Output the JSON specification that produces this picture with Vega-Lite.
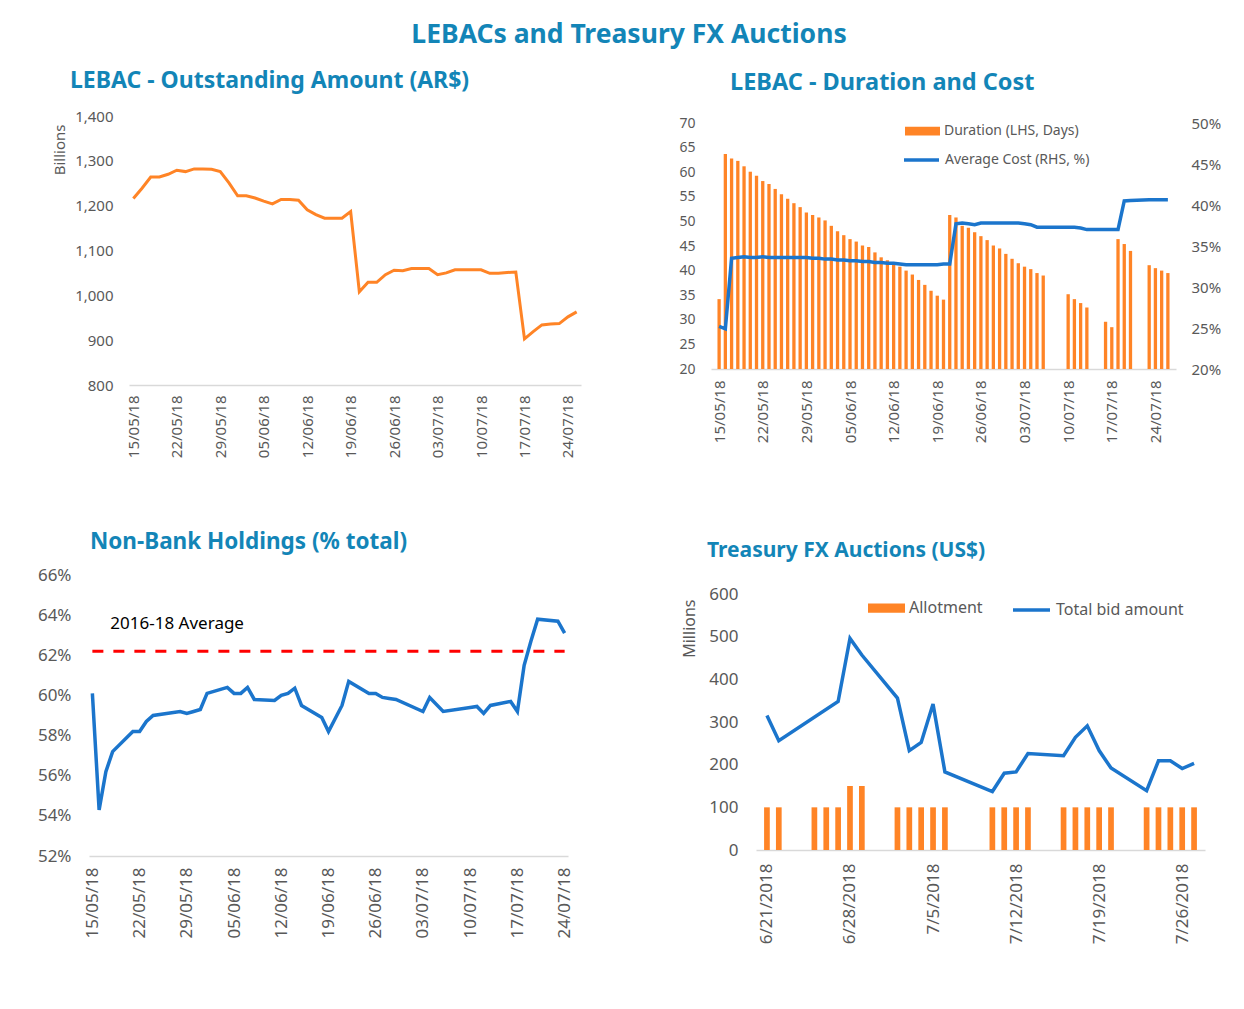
{
  "$schema": "https://vega.github.io/schema/vega-lite/v6.json",
  "autosize": {"type": "pad"},
  "padding": {"left": 37, "top": 21, "right": 0, "bottom": 0},
  "background": "white",
  "title": {"text": "LEBACs and Treasury FX Auctions", "fontSize": 26.5, "anchor": "middle", "offset": 22, "font": "Noto Sans", "fontWeight": "bold", "color": "#1385B7"},
  "config": {
    "font": "Noto Sans",
    "view": {"stroke": null},
    "axis": {"labelFont": "Noto Sans", "labelColor": "#595959", "domainColor": "#D9D9D9", "domainWidth": 1.5, "ticks": false, "grid": false, "titleFont": "Noto Sans", "titleFontWeight": "normal", "titleColor": "#595959", "labelFlush": false, "labelOverlap": false},
    "legend": {"labelFont": "Noto Sans", "labelColor": "#595959", "padding": 0, "title": null},
    "title": {"font": "Noto Sans", "color": "#1385B7", "fontWeight": "bold"}
  },
  "datasets": {
    "amount": [
      {"date": "2018-05-15", "amount": 1216}, {"date": "2018-05-16", "amount": 1239}, {"date": "2018-05-17", "amount": 1264}, {"date": "2018-05-18", "amount": 1264},
      {"date": "2018-05-21", "amount": 1270}, {"date": "2018-05-22", "amount": 1279}, {"date": "2018-05-23", "amount": 1276}, {"date": "2018-05-24", "amount": 1282},
      {"date": "2018-05-25", "amount": 1282}, {"date": "2018-05-28", "amount": 1281}, {"date": "2018-05-29", "amount": 1276}, {"date": "2018-05-30", "amount": 1251},
      {"date": "2018-05-31", "amount": 1222}, {"date": "2018-06-01", "amount": 1222}, {"date": "2018-06-04", "amount": 1217}, {"date": "2018-06-05", "amount": 1210},
      {"date": "2018-06-06", "amount": 1204}, {"date": "2018-06-07", "amount": 1214}, {"date": "2018-06-08", "amount": 1214}, {"date": "2018-06-11", "amount": 1212},
      {"date": "2018-06-12", "amount": 1191}, {"date": "2018-06-13", "amount": 1180}, {"date": "2018-06-14", "amount": 1172}, {"date": "2018-06-15", "amount": 1172},
      {"date": "2018-06-18", "amount": 1172}, {"date": "2018-06-19", "amount": 1187}, {"date": "2018-06-20", "amount": 1008}, {"date": "2018-06-21", "amount": 1029},
      {"date": "2018-06-22", "amount": 1029}, {"date": "2018-06-25", "amount": 1046}, {"date": "2018-06-26", "amount": 1056}, {"date": "2018-06-27", "amount": 1055},
      {"date": "2018-06-28", "amount": 1060}, {"date": "2018-06-29", "amount": 1060}, {"date": "2018-07-02", "amount": 1060}, {"date": "2018-07-03", "amount": 1046},
      {"date": "2018-07-04", "amount": 1050}, {"date": "2018-07-05", "amount": 1057}, {"date": "2018-07-06", "amount": 1057}, {"date": "2018-07-09", "amount": 1057},
      {"date": "2018-07-10", "amount": 1057}, {"date": "2018-07-11", "amount": 1049}, {"date": "2018-07-12", "amount": 1049}, {"date": "2018-07-13", "amount": 1051},
      {"date": "2018-07-16", "amount": 1052}, {"date": "2018-07-17", "amount": 903}, {"date": "2018-07-18", "amount": 919}, {"date": "2018-07-19", "amount": 934},
      {"date": "2018-07-20", "amount": 936}, {"date": "2018-07-23", "amount": 937}, {"date": "2018-07-24", "amount": 952}, {"date": "2018-07-25", "amount": 963}
    ],
    "durcost": [
      {"date": "2018-05-15", "duration": 34.2, "cost": 25.2}, {"date": "2018-05-16", "duration": 63.7, "cost": 24.9},
      {"date": "2018-05-17", "duration": 62.8, "cost": 33.5}, {"date": "2018-05-18", "duration": 62.3, "cost": 33.6},
      {"date": "2018-05-19", "duration": 61.2, "cost": 33.7}, {"date": "2018-05-20", "duration": 60.1, "cost": 33.6},
      {"date": "2018-05-21", "duration": 59.3, "cost": 33.6}, {"date": "2018-05-22", "duration": 58.2, "cost": 33.7},
      {"date": "2018-05-23", "duration": 57.6, "cost": 33.6}, {"date": "2018-05-24", "duration": 56.6, "cost": 33.6},
      {"date": "2018-05-25", "duration": 55.5, "cost": 33.6}, {"date": "2018-05-26", "duration": 54.6, "cost": 33.6},
      {"date": "2018-05-27", "duration": 53.7, "cost": 33.6}, {"date": "2018-05-28", "duration": 52.9, "cost": 33.6},
      {"date": "2018-05-29", "duration": 51.8, "cost": 33.6}, {"date": "2018-05-30", "duration": 51.3, "cost": 33.5},
      {"date": "2018-05-31", "duration": 50.8, "cost": 33.5}, {"date": "2018-06-01", "duration": 50.2, "cost": 33.4},
      {"date": "2018-06-02", "duration": 49.1, "cost": 33.4}, {"date": "2018-06-03", "duration": 48.0, "cost": 33.3},
      {"date": "2018-06-04", "duration": 47.2, "cost": 33.3}, {"date": "2018-06-05", "duration": 46.4, "cost": 33.2},
      {"date": "2018-06-06", "duration": 45.9, "cost": 33.2}, {"date": "2018-06-07", "duration": 45.1, "cost": 33.1},
      {"date": "2018-06-08", "duration": 44.8, "cost": 33.1}, {"date": "2018-06-09", "duration": 43.7, "cost": 33.0},
      {"date": "2018-06-10", "duration": 42.7, "cost": 33.0}, {"date": "2018-06-11", "duration": 42.1, "cost": 32.9},
      {"date": "2018-06-12", "duration": 41.5, "cost": 32.9}, {"date": "2018-06-13", "duration": 40.8, "cost": 32.8},
      {"date": "2018-06-14", "duration": 40.0, "cost": 32.7}, {"date": "2018-06-15", "duration": 39.2, "cost": 32.7},
      {"date": "2018-06-16", "duration": 38.1, "cost": 32.7}, {"date": "2018-06-17", "duration": 37.1, "cost": 32.7},
      {"date": "2018-06-18", "duration": 35.9, "cost": 32.7}, {"date": "2018-06-19", "duration": 34.9, "cost": 32.7},
      {"date": "2018-06-20", "duration": 34.1, "cost": 32.8}, {"date": "2018-06-21", "duration": 51.3, "cost": 32.8},
      {"date": "2018-06-22", "duration": 50.8, "cost": 37.7}, {"date": "2018-06-23", "duration": 49.1, "cost": 37.8},
      {"date": "2018-06-24", "duration": 48.7, "cost": 37.7}, {"date": "2018-06-25", "duration": 47.8, "cost": 37.6},
      {"date": "2018-06-26", "duration": 47.0, "cost": 37.8}, {"date": "2018-06-27", "duration": 46.2, "cost": 37.8},
      {"date": "2018-06-28", "duration": 45.1, "cost": 37.8}, {"date": "2018-06-29", "duration": 44.5, "cost": 37.8},
      {"date": "2018-06-30", "duration": 43.4, "cost": 37.8}, {"date": "2018-07-01", "duration": 42.4, "cost": 37.8},
      {"date": "2018-07-02", "duration": 41.5, "cost": 37.8}, {"date": "2018-07-03", "duration": 40.8, "cost": 37.7},
      {"date": "2018-07-04", "duration": 40.3, "cost": 37.6}, {"date": "2018-07-05", "duration": 39.5, "cost": 37.3},
      {"date": "2018-07-06", "duration": 39.0, "cost": 37.3}, {"date": "2018-07-10", "duration": 35.2, "cost": 37.3},
      {"date": "2018-07-11", "duration": 34.2, "cost": 37.3}, {"date": "2018-07-12", "duration": 33.4, "cost": 37.2},
      {"date": "2018-07-13", "duration": 32.5, "cost": 37.0}, {"date": "2018-07-16", "duration": 29.6, "cost": 37.0},
      {"date": "2018-07-17", "duration": 28.5, "cost": 37.0}, {"date": "2018-07-18", "duration": 46.4, "cost": 37.0},
      {"date": "2018-07-19", "duration": 45.4, "cost": 40.5}, {"date": "2018-07-20", "duration": 44.0, "cost": 40.55},
      {"date": "2018-07-23", "duration": 41.1, "cost": 40.65}, {"date": "2018-07-24", "duration": 40.5, "cost": 40.65},
      {"date": "2018-07-25", "duration": 40.0, "cost": 40.65}, {"date": "2018-07-26", "duration": 39.5, "cost": 40.65}
    ],
    "nonbank": [
      {"date": "2018-05-15", "share": 60.1}, {"date": "2018-05-16", "share": 54.3}, {"date": "2018-05-17", "share": 56.2}, {"date": "2018-05-18", "share": 57.2},
      {"date": "2018-05-21", "share": 58.2}, {"date": "2018-05-22", "share": 58.2}, {"date": "2018-05-23", "share": 58.7}, {"date": "2018-05-24", "share": 59.0},
      {"date": "2018-05-28", "share": 59.2}, {"date": "2018-05-29", "share": 59.1}, {"date": "2018-05-30", "share": 59.2}, {"date": "2018-05-31", "share": 59.3},
      {"date": "2018-06-01", "share": 60.1}, {"date": "2018-06-04", "share": 60.4}, {"date": "2018-06-05", "share": 60.1}, {"date": "2018-06-06", "share": 60.1},
      {"date": "2018-06-07", "share": 60.4}, {"date": "2018-06-08", "share": 59.8}, {"date": "2018-06-11", "share": 59.75}, {"date": "2018-06-12", "share": 60.0},
      {"date": "2018-06-13", "share": 60.1}, {"date": "2018-06-14", "share": 60.36}, {"date": "2018-06-15", "share": 59.5}, {"date": "2018-06-18", "share": 58.9},
      {"date": "2018-06-19", "share": 58.2}, {"date": "2018-06-21", "share": 59.5}, {"date": "2018-06-22", "share": 60.7}, {"date": "2018-06-25", "share": 60.1},
      {"date": "2018-06-26", "share": 60.1}, {"date": "2018-06-27", "share": 59.9}, {"date": "2018-06-28", "share": 59.85}, {"date": "2018-06-29", "share": 59.8},
      {"date": "2018-07-03", "share": 59.2}, {"date": "2018-07-04", "share": 59.9}, {"date": "2018-07-06", "share": 59.2}, {"date": "2018-07-10", "share": 59.4},
      {"date": "2018-07-11", "share": 59.45}, {"date": "2018-07-12", "share": 59.1}, {"date": "2018-07-13", "share": 59.5}, {"date": "2018-07-16", "share": 59.7},
      {"date": "2018-07-17", "share": 59.2}, {"date": "2018-07-18", "share": 61.5}, {"date": "2018-07-19", "share": 62.7}, {"date": "2018-07-20", "share": 63.8},
      {"date": "2018-07-23", "share": 63.7}, {"date": "2018-07-24", "share": 63.1}
    ],
    "nonbank_avg": [
      {"start": "2018-05-15", "end": "2018-07-24", "avg": 62.2, "label": "2016-18 Average"}
    ],
    "fx_allot": [
      {"date": "2018-06-21", "allotment": 100}, {"date": "2018-06-22", "allotment": 100}, {"date": "2018-06-25", "allotment": 100}, {"date": "2018-06-26", "allotment": 100},
      {"date": "2018-06-27", "allotment": 100}, {"date": "2018-06-28", "allotment": 150}, {"date": "2018-06-29", "allotment": 150}, {"date": "2018-07-02", "allotment": 100},
      {"date": "2018-07-03", "allotment": 100}, {"date": "2018-07-04", "allotment": 100}, {"date": "2018-07-05", "allotment": 100}, {"date": "2018-07-06", "allotment": 100},
      {"date": "2018-07-10", "allotment": 100}, {"date": "2018-07-11", "allotment": 100}, {"date": "2018-07-12", "allotment": 100}, {"date": "2018-07-13", "allotment": 100},
      {"date": "2018-07-16", "allotment": 100}, {"date": "2018-07-17", "allotment": 100}, {"date": "2018-07-18", "allotment": 100}, {"date": "2018-07-19", "allotment": 100},
      {"date": "2018-07-20", "allotment": 100}, {"date": "2018-07-23", "allotment": 100}, {"date": "2018-07-24", "allotment": 100}, {"date": "2018-07-25", "allotment": 100},
      {"date": "2018-07-26", "allotment": 100}, {"date": "2018-07-27", "allotment": 100}
    ],
    "fx_bid": [
      {"date": "2018-06-21", "bid": 315}, {"date": "2018-06-22", "bid": 256}, {"date": "2018-06-27", "bid": 348}, {"date": "2018-06-28", "bid": 496},
      {"date": "2018-06-29", "bid": 457}, {"date": "2018-07-02", "bid": 356}, {"date": "2018-07-03", "bid": 233}, {"date": "2018-07-04", "bid": 252},
      {"date": "2018-07-05", "bid": 342}, {"date": "2018-07-06", "bid": 183}, {"date": "2018-07-10", "bid": 137}, {"date": "2018-07-11", "bid": 180},
      {"date": "2018-07-12", "bid": 183}, {"date": "2018-07-13", "bid": 226}, {"date": "2018-07-16", "bid": 221}, {"date": "2018-07-17", "bid": 264},
      {"date": "2018-07-18", "bid": 291}, {"date": "2018-07-19", "bid": 233}, {"date": "2018-07-20", "bid": 192}, {"date": "2018-07-23", "bid": 139},
      {"date": "2018-07-24", "bid": 209}, {"date": "2018-07-25", "bid": 209}, {"date": "2018-07-26", "bid": 191}, {"date": "2018-07-27", "bid": 203}
    ]
  },
  "columns": 2,
  "bounds": "flush",
  "spacing": {"row": 190, "column": 130},
  "concat": [
    {
      "title": {"text": "LEBAC - Outstanding Amount (AR$)", "anchor": "start", "frame": "group", "baseline": "alphabetic", "fontSize": 23, "dx": -19, "offset": -2},
      "width": 492, "height": 269,
      "data": {"name": "amount"},
      "mark": {"type": "line", "color": "#FF8426", "strokeWidth": 3},
      "encoding": {
        "x": {"field": "date", "type": "ordinal", "scale": {"type": "point", "padding": 0.5, "range": [40, 492]},
          "axis": {"title": null, "values": ["2018-05-15", "2018-05-22", "2018-05-29", "2018-06-05", "2018-06-12", "2018-06-19", "2018-06-26", "2018-07-03", "2018-07-10", "2018-07-17", "2018-07-24"],
            "labelExpr": "slice(datum.value,8,10)+'/'+slice(datum.value,5,7)+'/'+slice(datum.value,2,4)", "labelAngle": -90, "labelPadding": 10, "labelFontSize": 15}},
        "y": {"field": "amount", "type": "quantitative", "scale": {"domain": [800, 1400], "nice": false, "zero": false},
          "axis": {"values": [800, 900, 1000, 1100, 1200, 1300, 1400], "format": ",d", "domain": false, "offset": -40, "labelPadding": 16, "labelFontSize": 15,
            "title": "Billions", "titleFontSize": 15, "titlePadding": 7, "titleAlign": "right", "titleY": 8}}
      }
    },
    {
      "title": {"text": "LEBAC - Duration and Cost", "anchor": "start", "frame": "group", "baseline": "alphabetic", "fontSize": 23.5, "dx": 19, "offset": 0},
      "width": 465, "height": 253,
      "data": {"name": "durcost"},
      "encoding": {
        "x": {"field": "date", "type": "temporal",
          "scale": {"type": "utc", "domain": [1526299200000, 1532606400000]},
          "axis": {"title": null, "values": [{"year": 2018, "month": 5, "date": 15, "utc": true}, {"year": 2018, "month": 5, "date": 22, "utc": true}, {"year": 2018, "month": 5, "date": 29, "utc": true}, {"year": 2018, "month": 6, "date": 5, "utc": true}, {"year": 2018, "month": 6, "date": 12, "utc": true}, {"year": 2018, "month": 6, "date": 19, "utc": true}, {"year": 2018, "month": 6, "date": 26, "utc": true}, {"year": 2018, "month": 7, "date": 3, "utc": true}, {"year": 2018, "month": 7, "date": 10, "utc": true}, {"year": 2018, "month": 7, "date": 17, "utc": true}, {"year": 2018, "month": 7, "date": 24, "utc": true}],
            "labelExpr": "utcFormat(datum.value, '%d/%m/%y')", "labelAngle": -90, "labelPadding": 11, "labelFontSize": 15}}
      },
      "layer": [
        {
          "mark": {"type": "bar", "size": 3.3},
          "encoding": {
            "y": {"field": "duration", "type": "quantitative", "scale": {"domain": [20, 70], "nice": false, "zero": false, "range": [253, 7]},
              "axis": {"values": [20, 25, 30, 35, 40, 45, 50, 55, 60, 65, 70], "domain": false, "labelPadding": 16, "labelFontSize": 14, "title": null}},
            "y2": {"datum": 20},
            "color": {"datum": "Duration (LHS, Days)", "scale": {"range": ["#FF8426"]},
              "legend": {"orient": "none", "legendX": 194, "legendY": -2.5, "symbolType": "M-1,-0.25H1V0.25H-1Z", "symbolSize": 1225, "symbolStrokeWidth": 0, "labelFontSize": 14, "labelOffset": 4}}
          }
        },
        {
          "mark": {"type": "line", "strokeWidth": 3.5},
          "encoding": {
            "y": {"field": "cost", "type": "quantitative", "scale": {"domain": [20, 50], "nice": false, "zero": false, "range": [253, 7]},
              "axis": {"orient": "right", "values": [20, 25, 30, 35, 40, 45, 50], "labelExpr": "datum.value + '%'", "domain": false, "labelPadding": 15, "labelFontSize": 15, "title": null}},
            "color": {"datum": "Average Cost (RHS, %)", "scale": {"range": ["#1B75CC"]},
              "legend": {"orient": "none", "legendX": 191, "legendY": 24.5, "symbolType": "stroke", "symbolSize": 1225, "symbolStrokeWidth": 3.5, "labelFontSize": 14, "labelOffset": 4}}
          }
        }
      ],
      "resolve": {"scale": {"y": "independent", "color": "independent"}}
    },
    {
      "title": {"text": "Non-Bank Holdings (% total)", "anchor": "start", "frame": "group", "baseline": "alphabetic", "fontSize": 22.5, "dx": 1, "offset": -5},
      "width": 479, "height": 281,
      "layer": [
        {
          "data": {"name": "nonbank_avg"},
          "mark": {"type": "rule", "color": "#FF0000", "strokeWidth": 3, "strokeDash": [11, 10]},
          "encoding": {
            "x": {"field": "start", "type": "temporal"},
            "x2": {"field": "end"},
            "y": {"field": "avg", "type": "quantitative"}
          }
        },
        {
          "data": {"name": "nonbank_avg"},
          "mark": {"type": "text", "align": "left", "baseline": "middle", "dx": 18, "dy": -27, "fontSize": 17, "color": "#000000"},
          "encoding": {
            "x": {"field": "start", "type": "temporal"},
            "y": {"field": "avg", "type": "quantitative"},
            "text": {"field": "label"}
          }
        },
        {
          "data": {"name": "nonbank"},
          "mark": {"type": "line", "color": "#1B75CC", "strokeWidth": 3.5},
          "encoding": {
            "x": {"field": "date", "type": "temporal",
              "scale": {"type": "utc", "domain": [1526299200000, 1532433600000]},
              "axis": {"title": null, "values": [{"year": 2018, "month": 5, "date": 15, "utc": true}, {"year": 2018, "month": 5, "date": 22, "utc": true}, {"year": 2018, "month": 5, "date": 29, "utc": true}, {"year": 2018, "month": 6, "date": 5, "utc": true}, {"year": 2018, "month": 6, "date": 12, "utc": true}, {"year": 2018, "month": 6, "date": 19, "utc": true}, {"year": 2018, "month": 6, "date": 26, "utc": true}, {"year": 2018, "month": 7, "date": 3, "utc": true}, {"year": 2018, "month": 7, "date": 10, "utc": true}, {"year": 2018, "month": 7, "date": 17, "utc": true}, {"year": 2018, "month": 7, "date": 24, "utc": true}],
                "labelExpr": "utcFormat(datum.value, '%d/%m/%y')", "labelAngle": -90, "labelPadding": 11, "labelFontSize": 17}},
            "y": {"field": "share", "type": "quantitative", "scale": {"domain": [52, 66], "nice": false, "zero": false},
              "axis": {"values": [52, 54, 56, 58, 60, 62, 64, 66], "labelExpr": "datum.value + '%'", "domain": false, "labelPadding": 18, "labelFontSize": 17, "title": null}}
          }
        }
      ]
    },
    {
      "title": {"text": "Treasury FX Auctions (US$)", "anchor": "start", "frame": "group", "baseline": "alphabetic", "fontSize": 21, "dx": -4, "offset": -3},
      "width": 494, "height": 275,
      "encoding": {
        "x": {"field": "date", "type": "temporal",
          "scale": {"type": "utc", "range": [45, 494], "domain": [1529496000000, 1532692800000]},
          "axis": {"title": null, "values": [{"year": 2018, "month": 6, "date": 21, "utc": true}, {"year": 2018, "month": 6, "date": 28, "utc": true}, {"year": 2018, "month": 7, "date": 5, "utc": true}, {"year": 2018, "month": 7, "date": 12, "utc": true}, {"year": 2018, "month": 7, "date": 19, "utc": true}, {"year": 2018, "month": 7, "date": 26, "utc": true}],
            "labelExpr": "utcFormat(datum.value, '%-m/%-d/%Y')", "labelAngle": -90, "labelPadding": 13, "labelFontSize": 17}}
      },
      "layer": [
        {
          "data": {"name": "fx_allot"},
          "mark": {"type": "bar", "size": 5.7},
          "encoding": {
            "y": {"field": "allotment", "type": "quantitative", "scale": {"domain": [0, 600], "nice": false, "range": [275, 19]},
              "axis": {"values": [0, 100, 200, 300, 400, 500, 600], "domain": false, "offset": -45, "labelPadding": 18, "labelFontSize": 17,
                "title": "Millions", "titleFontSize": 16, "titlePadding": 11, "titleAlign": "right", "titleY": 24}},
            "color": {"datum": "Allotment", "scale": {"range": ["#FF8426"]},
              "legend": {"orient": "none", "legendX": 157, "legendY": 14.5, "symbolType": "M-1,-0.25H1V0.25H-1Z", "symbolSize": 1369, "symbolStrokeWidth": 0, "labelFontSize": 16, "labelOffset": 4}}
          }
        },
        {
          "data": {"name": "fx_bid"},
          "mark": {"type": "line", "strokeWidth": 3.5},
          "encoding": {
            "y": {"field": "bid", "type": "quantitative"},
            "color": {"datum": "Total bid amount", "scale": {"range": ["#1B75CC"]},
              "legend": {"orient": "none", "legendX": 300, "legendY": 14.5, "symbolType": "stroke", "symbolSize": 1369, "symbolStrokeWidth": 3.5, "labelFontSize": 16, "labelOffset": 4}}
          }
        }
      ],
      "resolve": {"scale": {"color": "independent"}}
    }
  ]
}
